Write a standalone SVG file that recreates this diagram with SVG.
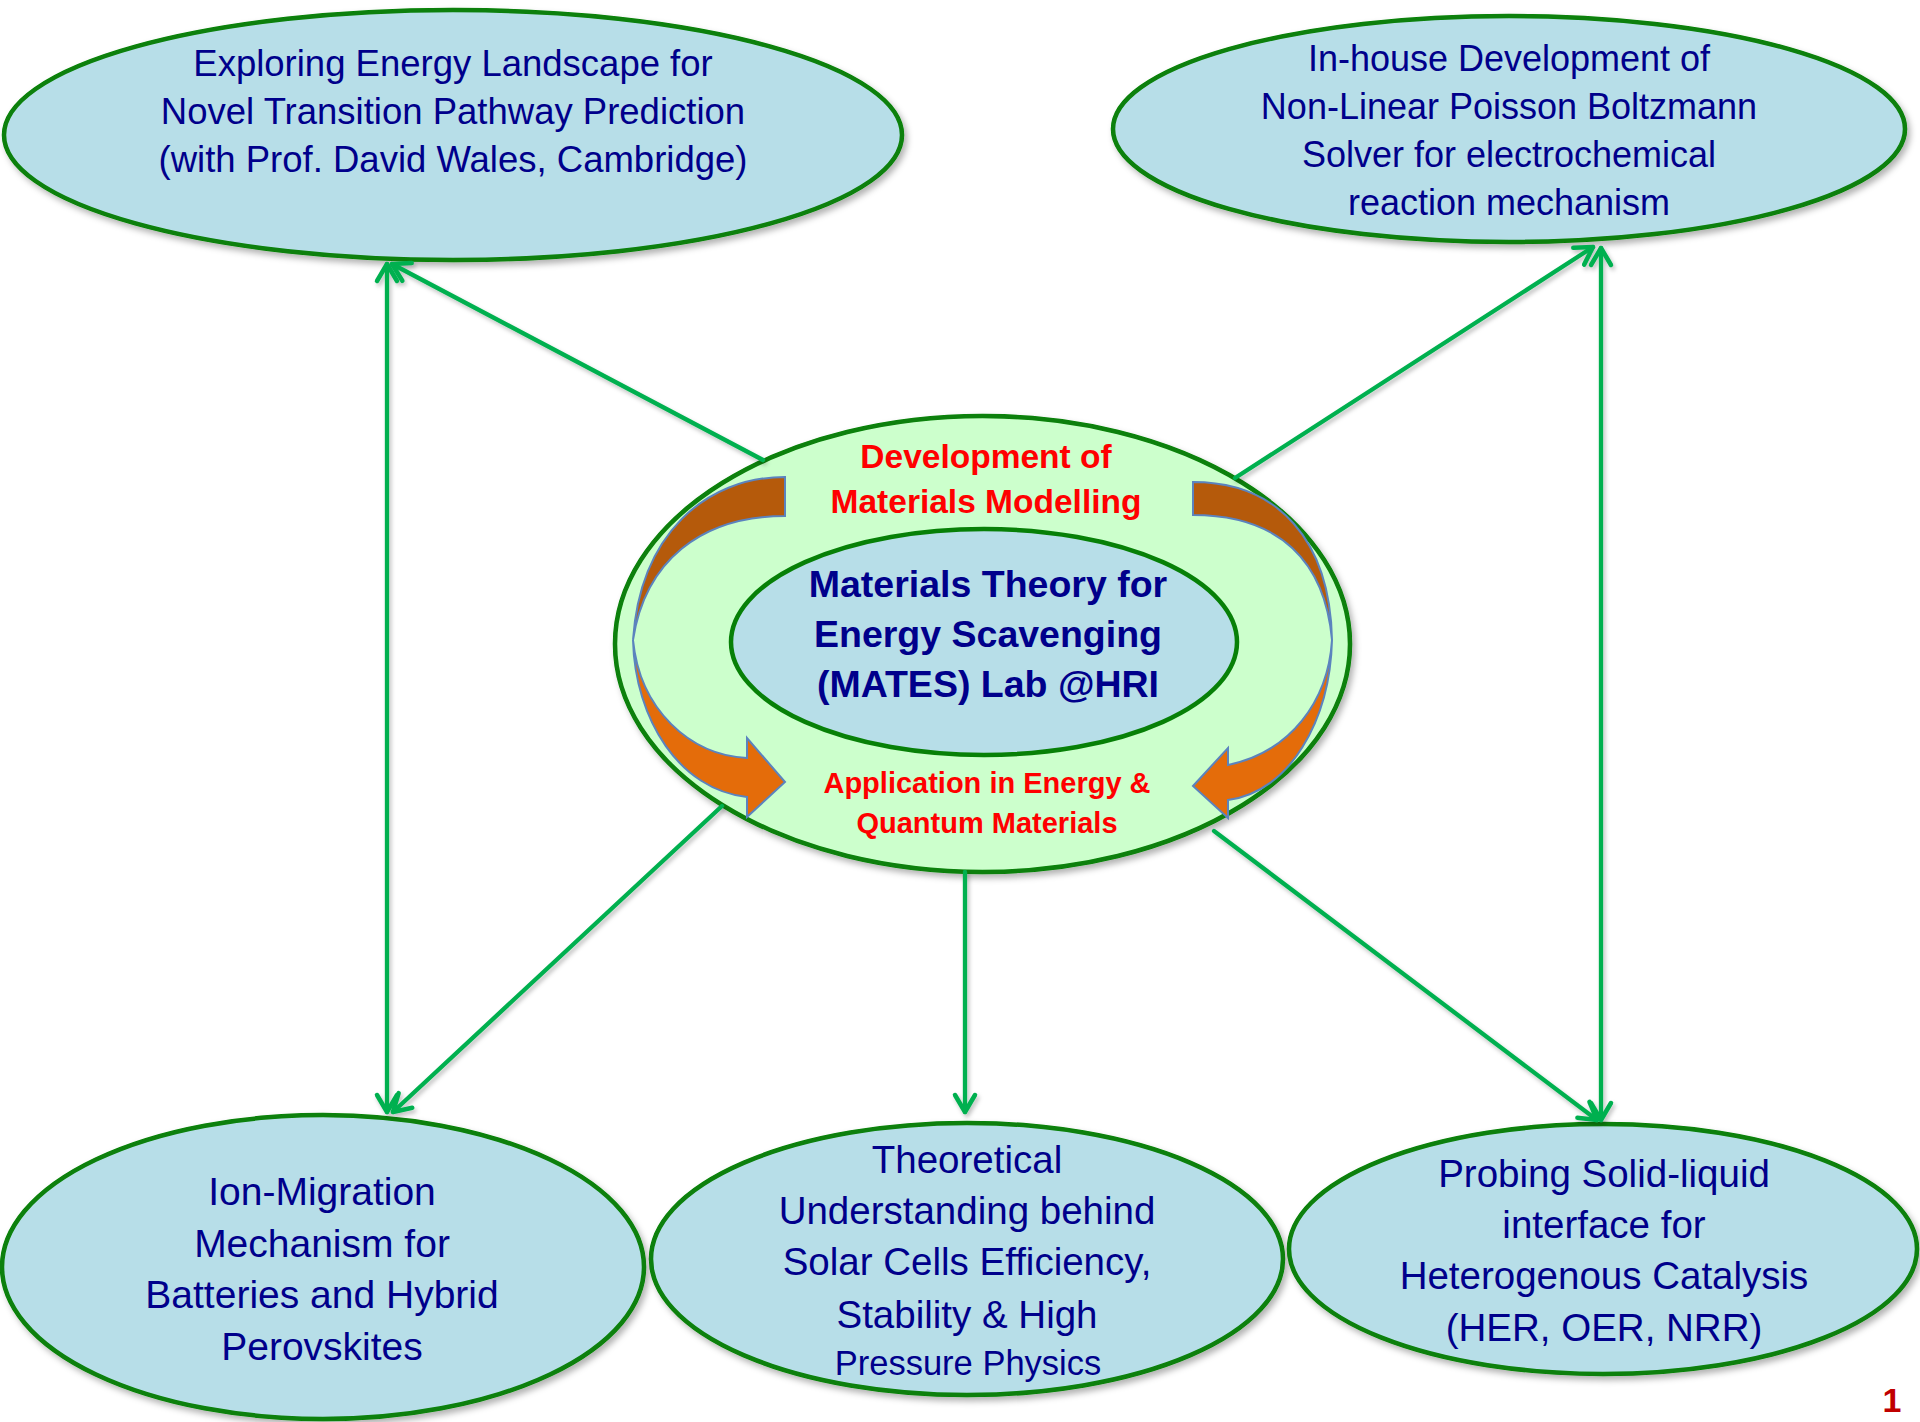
<svg xmlns="http://www.w3.org/2000/svg" width="1920" height="1422" viewBox="0 0 1920 1422">
<defs>
<filter id="sh" x="-10%" y="-10%" width="125%" height="125%">
<feDropShadow dx="3" dy="4" stdDeviation="3" flood-color="#000" flood-opacity="0.3"/>
</filter>
<filter id="lsh" x="-10%" y="-10%" width="125%" height="125%">
<feDropShadow dx="2" dy="3" stdDeviation="2" flood-color="#000" flood-opacity="0.25"/>
</filter>
<marker id="chev" viewBox="-24 -16 30 32" refX="0" refY="0" markerWidth="30" markerHeight="32" markerUnits="userSpaceOnUse" orient="auto-start-reverse">
<path d="M-17,-10 L0,0 L-17,10" fill="none" stroke="#00B050" stroke-width="4.5" stroke-linecap="round" stroke-linejoin="round"/>
</marker>
<style>
.node{fill:#B7DEE8;stroke:#078007;stroke-width:4.5}
.outer{fill:#CCFFCC;stroke:#078007;stroke-width:4.5}
.t{font-family:"Liberation Sans",Arial,sans-serif;fill:#00008B;text-anchor:middle}
.tb{font-family:"Liberation Sans",Arial,sans-serif;font-weight:bold;text-anchor:middle}
.conn{fill:none;stroke:#00B050;stroke-width:4.3;stroke-linecap:round}
.brown{fill:#B55A0B;stroke:#5B83BE;stroke-width:2;stroke-linejoin:miter}
.orange{fill:#E46C0A;stroke:#5B83BE;stroke-width:2;stroke-linejoin:miter}
</style>
</defs>
<rect width="1920" height="1422" fill="#FFFFFF"/>

<g id="node-energy-landscape">
<ellipse class="node" filter="url(#sh)" cx="453" cy="135" rx="449" ry="125"/>
<text class="t" font-size="36.5"><tspan x="453" y="76">Exploring Energy Landscape for</tspan><tspan x="453" y="124">Novel Transition Pathway Prediction</tspan><tspan x="453" y="172">(with Prof. David Wales, Cambridge)</tspan></text>
</g>

<g id="node-poisson-boltzmann">
<ellipse class="node" filter="url(#sh)" cx="1509" cy="129" rx="396" ry="113"/>
<text class="t" font-size="36"><tspan x="1509" y="71">In-house Development of</tspan><tspan x="1509" y="119">Non-Linear Poisson Boltzmann</tspan><tspan x="1509" y="167">Solver for electrochemical</tspan><tspan x="1509" y="215">reaction mechanism</tspan></text>
</g>

<g id="node-center">
<ellipse class="outer" filter="url(#sh)" cx="982.5" cy="644" rx="367.5" ry="228"/>
<path class="brown" d="M785,477 C705,477 640,535 633,640 C645,562 700,516 785,516 Z"/>
<path class="orange" d="M633,640 C640,710 690,755 747,758 L747,738 L785,782 L747,817 L747,797 C680,790 635,720 633,640 Z"/>
<path class="brown" d="M1193,482 C1278,482 1330,540 1332,640 C1325,562 1280,515 1193,515 Z"/>
<path class="orange" d="M1332,640 C1330,720 1290,792 1228,800 L1228,818 L1193,786 L1228,748 L1228,765 C1290,752 1328,702 1332,640 Z"/>
<text class="tb" font-size="33.5" fill="#FF0000"><tspan x="986" y="468">Development of</tspan><tspan x="986" y="513">Materials Modelling</tspan></text>
<text class="tb" font-size="29" fill="#FF0000"><tspan x="987" y="793">Application in Energy &amp;</tspan><tspan x="987" y="833">Quantum Materials</tspan></text>
</g>

<g id="node-mates-lab">
<ellipse class="node" cx="984" cy="642" rx="253" ry="113"/>
<text class="tb" font-size="37.5" fill="#00008B"><tspan x="988" y="597">Materials Theory for</tspan><tspan x="988" y="647">Energy Scavenging</tspan><tspan x="988" y="697">(MATES) Lab @HRI</tspan></text>
</g>

<g id="node-ion-migration">
<ellipse class="node" filter="url(#sh)" cx="323" cy="1267" rx="321" ry="152"/>
<text class="t" font-size="39"><tspan x="322" y="1205">Ion-Migration</tspan><tspan x="322" y="1257">Mechanism for</tspan><tspan x="322" y="1308">Batteries and Hybrid</tspan><tspan x="322" y="1360">Perovskites</tspan></text>
</g>

<g id="node-solar-cells">
<ellipse class="node" filter="url(#sh)" cx="967" cy="1259" rx="316" ry="136"/>
<text class="t" font-size="38.5"><tspan x="967" y="1173">Theoretical</tspan><tspan x="967" y="1224">Understanding behind</tspan><tspan x="967" y="1275">Solar Cells Efficiency,</tspan><tspan x="967" y="1328">Stability &amp; High</tspan></text>
<text class="t" font-size="34.5" x="968" y="1375">Pressure Physics</text>
</g>

<g id="node-solid-liquid">
<ellipse class="node" filter="url(#sh)" cx="1603" cy="1249" rx="314" ry="125"/>
<text class="t" font-size="38.5"><tspan x="1604" y="1187">Probing Solid-liquid</tspan><tspan x="1604" y="1238">interface for</tspan><tspan x="1604" y="1289">Heterogenous Catalysis</tspan><tspan x="1604" y="1341">(HER, OER, NRR)</tspan></text>
</g>

<g id="connectors" filter="url(#lsh)">
<line class="conn" x1="763" y1="460" x2="392" y2="264" marker-end="url(#chev)"/>
<line class="conn" x1="387" y1="264" x2="387" y2="1112" marker-start="url(#chev)" marker-end="url(#chev)"/>
<line class="conn" x1="1235" y1="478" x2="1593" y2="247" marker-end="url(#chev)"/>
<line class="conn" x1="1601" y1="248" x2="1601" y2="1120" marker-start="url(#chev)" marker-end="url(#chev)"/>
<line class="conn" x1="722" y1="806" x2="393" y2="1112" marker-end="url(#chev)"/>
<line class="conn" x1="965" y1="872" x2="965" y2="1112" marker-end="url(#chev)"/>
<line class="conn" x1="1214" y1="831" x2="1597" y2="1120" marker-end="url(#chev)"/>
</g>

<text x="1892" y="1412" font-family="'Liberation Sans',Arial,sans-serif" font-weight="bold" font-size="34" fill="#C00000" text-anchor="middle">1</text>
</svg>
